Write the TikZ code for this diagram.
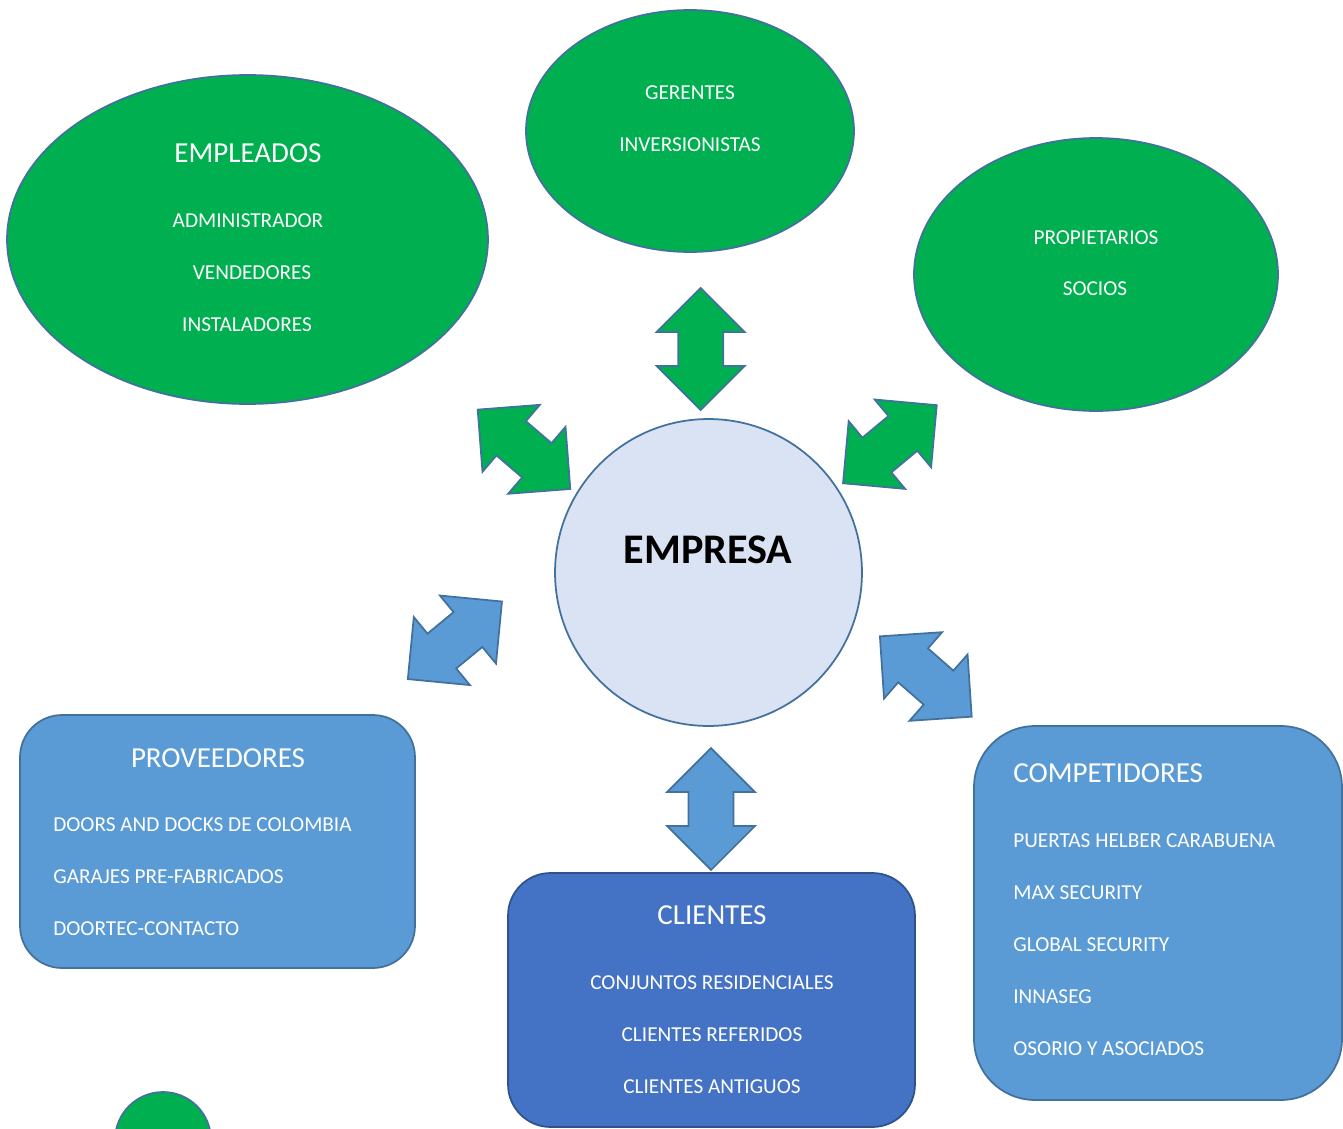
\documentclass[tikz,border=0pt]{standalone}
\usepackage{fontspec}
\setmainfont{Carlito}
\usetikzlibrary{shapes.geometric,shapes.arrows,positioning}
\definecolor{leafgreen}{RGB}{0,176,80}
\definecolor{skyblue}{RGB}{91,155,213}
\definecolor{royal}{RGB}{68,114,196}
\definecolor{paleblue}{RGB}{218,227,243}
\definecolor{edgeblue}{RGB}{65,113,156}
\definecolor{deepblue}{RGB}{47,82,143}
\tikzset{
  grp/.style={ellipse,draw=edgeblue,line width=1pt,fill=leafgreen,inner sep=0pt},
  hub/.style={circle,draw=edgeblue,line width=1pt,fill=paleblue,inner sep=0pt,minimum size=6.14cm},
  panel/.style={rectangle,draw=edgeblue,line width=1pt,fill=skyblue,inner sep=0pt},
  dual/.style={double arrow,draw=edgeblue,line width=1pt,inner xsep=0pt,inner ysep=0.434cm,
               minimum height=2.44cm,double arrow head extend=0.43cm},
  head/.style={text=white,font=\fontsize{16.5}{20}\selectfont,anchor=base,inner sep=0pt},
  item/.style={text=white,font=\fontsize{12.1}{14}\selectfont,anchor=base,inner sep=0pt},
}

\begin{document}
\begin{tikzpicture}[x=0.02cm,y=-0.02cm]
  \useasboundingbox[fill=white] (0,0) rectangle (1343,1129);

  % green groups
  \node[grp,minimum width=9.62cm,minimum height=6.58cm] (empleados) at (247.5,239.5) {};
  \node[grp,minimum width=6.56cm,minimum height=4.84cm] (gerentes) at (690,131) {};
  \node[grp,minimum width=7.28cm,minimum height=5.46cm] (propietarios) at (1096,274.5) {};
  \node[grp,circle,minimum size=1.92cm] (dot) at (163,1140) {};

  % centre
  \node[hub] (empresa) at (708.5,572.5) {};

  % blue groups
  \node[panel,rounded corners=0.84cm,minimum width=7.9cm,minimum height=5.06cm] (proveedores) at (217.5,841.5) {};
  \node[panel,draw=deepblue,fill=royal,rounded corners=0.85cm,minimum width=8.14cm,minimum height=5.08cm] (clientes) at (711.5,1000) {};
  \node[panel,rounded corners=1.22cm,minimum width=7.36cm,minimum height=7.48cm] (competidores) at (1158,913) {};

  % double arrows
  \node[dual,fill=leafgreen,rotate=90] (a-top) at (700.7,349) {};
  \node[dual,fill=leafgreen,rotate=-40.6] (a-ul) at (524,449.3) {};
  \node[dual,fill=leafgreen,rotate=39.8] (a-ur) at (889.9,444.2) {};
  \node[dual,fill=skyblue,rotate=39.5] (a-ll) at (454.9,640.3) {};
  \node[dual,fill=skyblue,rotate=-41.2] (a-lr) at (925.8,676.5) {};
  \node[dual,fill=skyblue,rotate=90] (a-bot) at (711,809) {};

  % texts
  \node[head] (empleados-h) at (248,162.5) {EMPLEADOS};
  \node[item] (empleados-1) at (248,227) {ADMINISTRADOR};
  \node[item] (empleados-2) at (252,279) {VENDEDORES};
  \node[item] (empleados-3) at (247,331) {INSTALADORES};

  \node[item] (gerentes-1) at (690,99) {GERENTES};
  \node[item] (gerentes-2) at (690,151) {INVERSIONISTAS};

  \node[item] (propietarios-1) at (1096,244) {PROPIETARIOS};
  \node[item] (propietarios-2) at (1095,295) {SOCIOS};

  \node[anchor=base,inner sep=0pt,font=\fontsize{24}{28}\selectfont\bfseries] (empresa-h) at (708,563) {EMPRESA};

  \node[head] (proveedores-h) at (218,767.5) {PROVEEDORES};
  \node[item,anchor=base west] (proveedores-1) at (53,831) {DOORS AND DOCKS DE COLOMBIA};
  \node[item,anchor=base west] (proveedores-2) at (53,883) {GARAJES PRE-FABRICADOS};
  \node[item,anchor=base west] (proveedores-3) at (53,935) {DOORTEC-CONTACTO};

  \node[head] (clientes-h) at (712,924.5) {CLIENTES};
  \node[item] (clientes-1) at (712,989) {CONJUNTOS RESIDENCIALES};
  \node[item] (clientes-2) at (712,1041) {CLIENTES REFERIDOS};
  \node[item] (clientes-3) at (712,1093) {CLIENTES ANTIGUOS};

  \node[head,anchor=base west] (competidores-h) at (1013,782.5) {COMPETIDORES};
  \node[item,anchor=base west] (competidores-1) at (1013,847) {PUERTAS HELBER CARABUENA};
  \node[item,anchor=base west] (competidores-2) at (1013,899) {MAX SECURITY};
  \node[item,anchor=base west] (competidores-3) at (1013,951) {GLOBAL SECURITY};
  \node[item,anchor=base west] (competidores-4) at (1013,1003) {INNASEG};
  \node[item,anchor=base west] (competidores-5) at (1013,1055) {OSORIO Y ASOCIADOS};
\end{tikzpicture}
\end{document}
